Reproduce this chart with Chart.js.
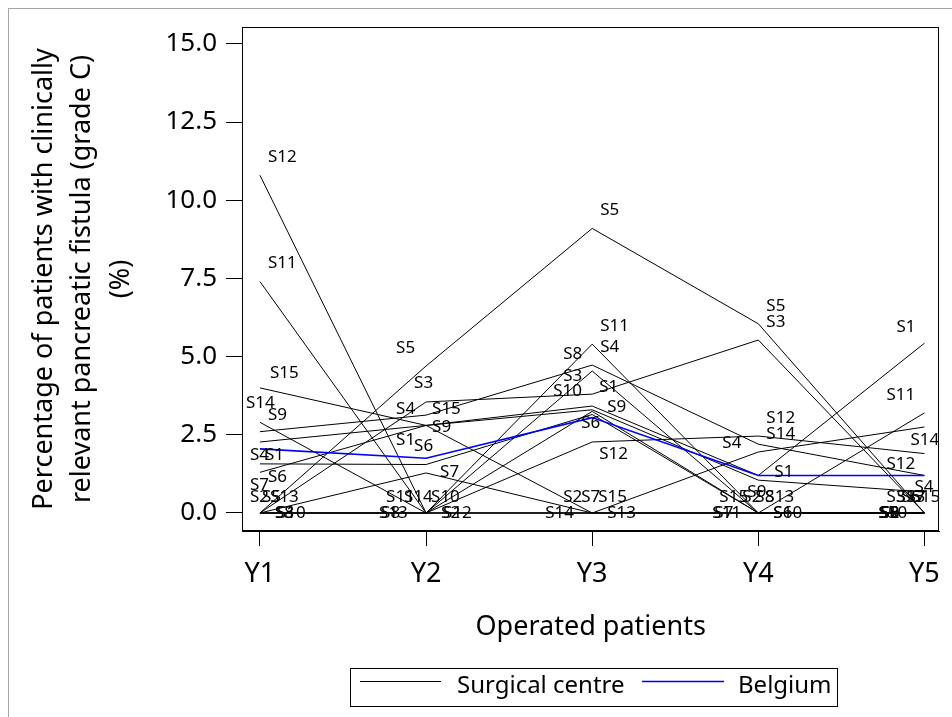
<!DOCTYPE html>
<html>
<head>
<meta charset="utf-8">
<script src="https://cdn.jsdelivr.net/npm/chart.js@4.4.1/dist/chart.umd.min.js"></script>
<style>
  html, body { margin: 0; padding: 0; background: #fff; }
  #wrap { width: 952px; height: 717px; position: relative; }
</style>
</head>
<body>
<div id="wrap"><canvas id="chart"></canvas></div>
<script>
// years on the x axis and y tick values
const years = ['Y1', 'Y2', 'Y3', 'Y4', 'Y5'];
const yTicks = [0, 2.5, 5, 7.5, 10, 12.5, 15];

// % grade C fistula per surgical centre, Y1..Y5
const S1 = [1.3, 2.8, 3.42, 1.2, 5.43];
const S2 = [0, 0, 0, 0, 0];
const S3 = [0, 3.55, 3.8, 5.53, 0];
const S4 = [2.6, 3.13, 4.73, 2.2, 1.2];
const S5 = [0, 4.7, 9.1, 6.05, 0];
const S6 = [1.57, 1.55, 3.15, 0, 0];
const S7 = [0, 1.28, 0, 0, 0];
const S8 = [0, 0, 4.54, 0, 0];
const S9 = [2.27, 2.8, 3.3, 1.05, 0.67];
const S10 = [0, 0, 3.25, 0, 0];
const S11 = [7.4, 0, 5.4, 0, 3.2];
const S12 = [10.8, 0, 2.27, 2.46, 1.9];
const S13 = [0, 0, 0, 0, 0];
const S14 = [2.9, 0, 0, 1.95, 2.75];
const S15 = [4.0, 2.8, 0, 0, 0];
const belgium = [2.05, 1.75, 3.05, 1.2, 1.2];

const centreNames = ['S1','S2','S3','S4','S5','S6','S7','S8','S9','S10','S11','S12','S13','S14','S15'];
const centreValues = [S1, S2, S3, S4, S5, S6, S7, S8, S9, S10, S11, S12, S13, S14, S15];

const FONT = '"Noto Sans", "DejaVu Sans", sans-serif';

// where each data label sits relative to its point (dx, dy in px), like the SAS label placer did
const labelNudge = {
  'S15|0': [10,-15], 'S14|0': [-14,-19], 'S9|0': [8,-27], 'S4|0': [-10,23], 'S1|0': [5,-17], 'S6|0': [8,13],
  'S2|0': [-10,-16], 'S5|0': [2,-16], 'S13|0': [10,-16], 'S3|0': [15,0], 'S8|0': [15,0], 'S10|0': [17,0], 'S7|0': [-10,-28],
  'S5|1': [-30,-18], 'S3|1': [-12,-19], 'S4|1': [-30,-6], 'S15|1': [6,-16], 'S9|1': [6,2], 'S1|1': [-30,15],
  'S6|1': [-12,-18], 'S7|1': [14,-1],
  'S11|1': [-40,-16], 'S14|1': [-22,-16], 'S10|1': [5,-16], 'S13|1': [-47,0], 'S8|1': [-45,0], 'S2|1': [15,0], 'S12|1': [17,0],
  'S8|2': [-29,-17], 'S3|2': [-29,-18], 'S10|2': [-39,-20], 'S1|2': [7,-19], 'S9|2': [15,-3], 'S6|2': [-11,9], 'S12|2': [7,12],
  'S2|2': [-29,-16], 'S7|2': [-11,-16], 'S15|2': [6,-16], 'S14|2': [-47,0], 'S13|2': [15,0],
  'S4|3': [-36,-1], 'S1|3': [16,-3], 'S9|3': [-11,12],
  'S15|3': [-39,-16], 'S2|3': [-16,-16], 'S8|3': [-3,-16], 'S13|3': [7,-16], 'S11|3': [-46,0], 'S7|3': [-44,0], 'S6|3': [15,0], 'S10|3': [15,0],
  'S1|4': [-28,-16], 'S11|4': [-38,-18], 'S14|4': [-14,13], 'S12|4': [-38,11], 'S4|4': [-10,12], 'S9|4': [-44,21],
  'S3|4': [-38,-16], 'S13|4': [-28,-16], 'S6|4': [-23,-16], 'S7|4': [-18,-16], 'S15|4': [-13,-16],
  'S5|4': [-46,0], 'S10|4': [-46,0], 'S2|4': [-44,0], 'S8|4': [-44,0]
};

const datasets = centreNames.map((name, k) => ({
  label: name,
  data: centreValues[k].map((v, i) => ({ x: i + 1, y: v })),
  borderColor: '#000',
  borderWidth: 1,
  pointRadius: 0,
  tension: 0,
  fill: false,
  order: 1
}));
datasets.push({
  label: 'Belgium',
  data: belgium.map((v, i) => ({ x: i + 1, y: v })),
  borderColor: '#0000ff',
  borderWidth: 1.6,
  pointRadius: 0,
  tension: 0,
  fill: false,
  order: 0
});

const extras = {
  id: 'extras',
  afterDatasetsDraw(chart) {
    const ctx = chart.ctx, xs = chart.scales.x, ys = chart.scales.y;
    ctx.save();
    ctx.font = '17px ' + FONT;
    ctx.fillStyle = '#000';
    ctx.textAlign = 'left';
    ctx.textBaseline = 'middle';
    centreNames.forEach((name, k) => {
      centreValues[k].forEach((v, i) => {
        const px = xs.getPixelForValue(i + 1);
        const py = ys.getPixelForValue(v);
        const d = labelNudge[name + '|' + i] || [8, -18];
        ctx.fillText(name, px + d[0], py + d[1]);
      });
    });
    ctx.restore();
  },
  afterDraw(chart) {
    const ctx = chart.ctx, a = chart.chartArea;
    ctx.save();
    // plot frame
    ctx.strokeStyle = '#000';
    ctx.lineWidth = 1;
    ctx.strokeRect(Math.round(a.left) + 0.5, Math.round(a.top) + 0.5,
                   Math.round(a.right - a.left) - 1, Math.round(a.bottom - a.top) - 1);
    // outer grey frame
    ctx.strokeStyle = '#a6a6a6';
    ctx.strokeRect(8.5, 8.5, 1000, 1000);

    // y axis title, 3 lines rotated
    ctx.fillStyle = '#000';
    ctx.font = '27px ' + FONT;
    ctx.textAlign = 'center';
    ctx.textBaseline = 'middle';
    const yTitle = ['Percentage of patients with clinically', 'relevant pancreatic fistula (grade C)', '(%)'];
    const yMid = (a.top + a.bottom) / 2;
    [44, 82, 121].forEach((x, i) => {
      ctx.save();
      ctx.translate(x, yMid);
      ctx.rotate(-Math.PI / 2);
      ctx.fillText(yTitle[i], 0, 0);
      ctx.restore();
    });

    // x axis title
    ctx.font = '27px ' + FONT;
    ctx.fillText('Operated patients', (a.left + a.right) / 2, 627);

    // legend
    ctx.strokeStyle = '#000';
    ctx.lineWidth = 1;
    ctx.strokeRect(350.5, 668.5, 487, 38);
    ctx.beginPath();
    ctx.moveTo(360, 681.5); ctx.lineTo(441, 681.5);
    ctx.stroke();
    ctx.beginPath();
    ctx.strokeStyle = '#0000ff';
    ctx.lineWidth = 1.5;
    ctx.moveTo(642, 681.5); ctx.lineTo(724, 681.5);
    ctx.stroke();
    ctx.font = '24px ' + FONT;
    ctx.textAlign = 'left';
    ctx.fillText('Surgical centre', 457, 686);
    ctx.fillText('Belgium', 738, 686);
    ctx.restore();
  }
};

new Chart(document.getElementById('chart'), {
  type: 'line',
  data: { datasets },
  options: {
    responsive: true,
    maintainAspectRatio: false,
    animation: false,
    layout: { padding: { top: 27, right: 9, left: 0, bottom: 0 } },
    plugins: { legend: { display: false }, tooltip: { enabled: false } },
    scales: {
      x: {
        type: 'linear',
        min: 0.892,
        max: 5.09,
        afterBuildTicks: s => { s.ticks = years.map((y, i) => ({ value: i + 1 })); },
        afterFit: s => { s.height = 186; },
        ticks: {
          callback: v => years[v - 1],
          font: { size: 27, family: FONT },
          color: '#000',
          padding: 12,
          autoSkip: false,
          maxRotation: 0
        },
        grid: { drawOnChartArea: false, drawTicks: true, tickLength: 15, color: '#000' },
        border: { display: true, color: '#000' }
      },
      y: {
        min: -0.576,
        max: 15.54,
        afterBuildTicks: s => { s.ticks = yTicks.map(v => ({ value: v })); },
        afterFit: s => { s.width = 242; },
        ticks: {
          callback: v => v.toFixed(1),
          font: { size: 26, family: FONT },
          color: '#000',
          padding: 9
        },
        grid: { drawOnChartArea: false, drawTicks: true, tickLength: 16, color: '#000' },
        border: { display: true, color: '#000' }
      }
    }
  },
  plugins: [extras]
});
</script>
</body>
</html>
